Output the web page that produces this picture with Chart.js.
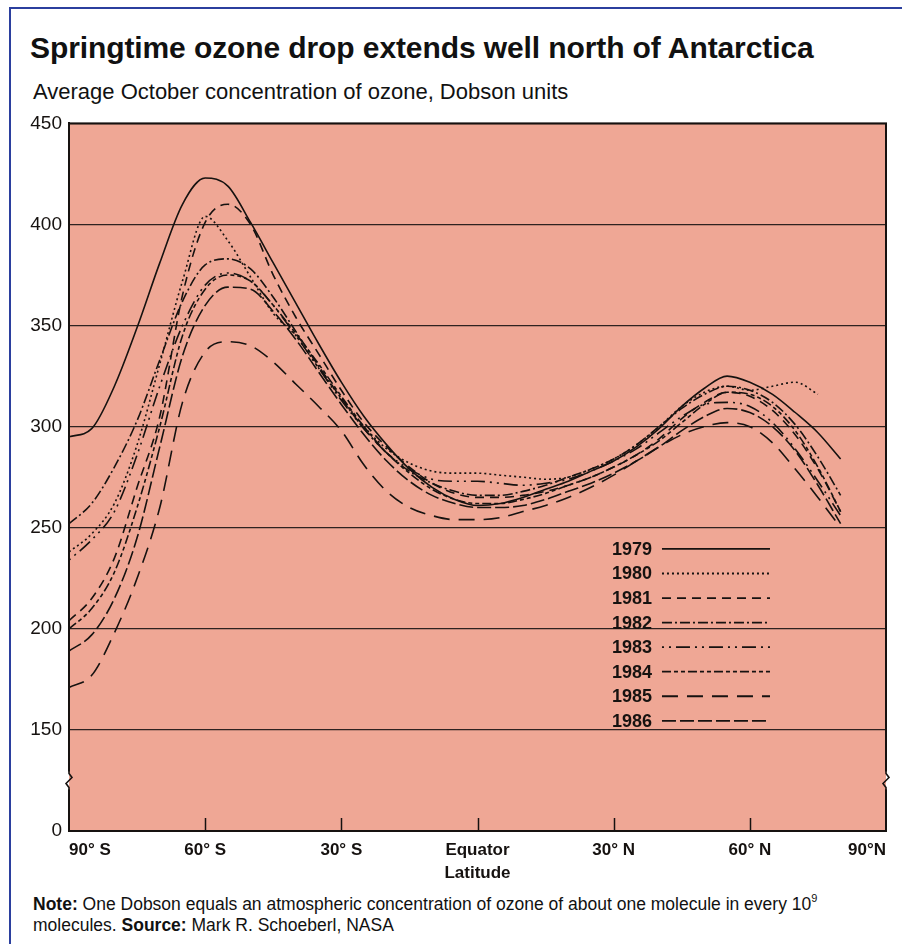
<!DOCTYPE html>
<html><head><meta charset="utf-8">
<script src="https://cdn.jsdelivr.net/npm/chart.js@4.4.1/dist/chart.umd.min.js"></script>
<style>
html,body{margin:0;padding:0;background:#fff;width:902px;height:944px;overflow:hidden;font-family:'Liberation Sans',Arial,sans-serif;color:#111}
#frame{position:absolute;left:9px;top:7px;width:900px;height:940px;border-top:2px solid #2B3F9E;border-left:2px solid #2B3F9E}
#title{position:absolute;left:30px;top:31px;font-size:30px;font-weight:bold;white-space:nowrap;letter-spacing:-0.1px}
#sub{position:absolute;left:33px;top:79px;font-size:22px;white-space:nowrap}
#wrap{position:absolute;left:0;top:105px;width:902px;height:785px}
#note{position:absolute;left:33px;top:894px;font-size:17.5px;line-height:21px;white-space:nowrap}
#note sup{font-size:11px;line-height:0;position:relative;top:-1px}
</style></head>
<body>
<div id="frame"></div>
<div id="title">Springtime ozone drop extends well north of Antarctica</div>
<div id="sub">Average October concentration of ozone, Dobson units</div>
<div id="wrap"><canvas id="c" width="902" height="785"></canvas></div>
<div id="note"><b>Note:</b> One Dobson equals an atmospheric concentration of ozone of about one molecule in every 10<sup>9</sup><br>molecules. <b>Source:</b> Mark R. Schoeberl, NASA</div>
<script>
// ---- data ----
const latitudes = [-90,-85,-80,-75,-70,-65,-60,-55,-50,-45,-40,-35,-30,-25,-20,-15,-10,-5,0,5,10,15,20,25,30,35,40,45,50,55,60,65,70,75,80];
const years = ['1979','1980','1981','1982','1983','1984','1985','1986'];
const ozone1979 = [295,299,320,349,381,410,423,419,401,381,361,341,322,305,291,279,270,264,261,262,265,269,273,278,283,290,299,310,319,325,322,316,307,297,284];
const ozone1980 = [238,247,262,291,331,372,404,392,374,356,345,329,314,300,289,282,278,277,277,276,275,274,275,279,284,291,300,310,317,320,318,320,322,316];
const ozone1981 = [204,215,235,270,305,365,401,410,400,375,354,336,318,302,290,280,272,267,265,265,266,268,271,275,280,286,294,304,312,317,315,308,296,279,258];
const ozone1982 = [252,262,280,303,333,362,380,383,378,364,347,330,314,299,287,278,272,268,266,266,268,271,275,279,284,291,300,309,316,320,318,312,301,285,266];
const ozone1983 = [234,244,258,286,320,350,370,376,372,360,345,329,313,299,287,279,274,273,273,272,271,272,274,278,283,289,297,305,311,312,310,302,289,273,256];
const ozone1984 = [200,210,228,260,300,345,368,375,372,360,346,331,315,300,287,277,269,264,262,262,264,267,271,275,280,286,293,302,311,317,316,310,298,280,258];
const ozone1985 = [171,177,198,225,260,312,337,342,340,332,321,310,298,281,268,260,256,254,254,255,258,261,265,270,276,283,290,296,300,302,300,292,279,265,250];
const ozone1986 = [189,197,215,245,290,335,360,369,368,357,343,327,311,296,283,273,266,262,260,260,261,264,268,272,277,283,290,298,305,309,307,300,288,271,252];
const seriesValues = [ozone1979,ozone1980,ozone1981,ozone1982,ozone1983,ozone1984,ozone1985,ozone1986];
const xTickValues = [-90,-60,-30,0,30,60,90];
const xTickLabels = ['90° S','60° S','30° S','Equator','30° N','60° N','90°N'];
const yTickValues = [100,150,200,250,300,350,400,450];
const yTickLabels = ['0','150','200','250','300','350','400','450'];

// ---- styles ----
const PLOT_BG = '#EFA795';
const INK = '#161210';
const dashes = [[],[2,3],[9,6],[10,3,2,3],[2,5,2,5,14,5],[9,3,4,3,4,3],[16,9],[14,4]];
const BREAK_VALUE = 125;

const datasets = seriesValues.map((vals,i)=>({
  label: years[i],
  data: vals.map((v,j)=>({x:latitudes[j], y:v})),
  borderColor: INK,
  borderWidth: 1.6,
  borderDash: dashes[i],
  pointRadius: 0,
  fill: false,
  cubicInterpolationMode: 'monotone'
}));

const decor = {
  id:'decor',
  beforeDraw(c){
    const {ctx, chartArea:a} = c;
    ctx.save(); ctx.fillStyle = PLOT_BG;
    ctx.fillRect(a.left, a.top, a.right-a.left, a.bottom-a.top);
    ctx.restore();
  },
  afterDatasetsDraw(c){
    const {ctx, chartArea:a, scales:{x,y}} = c;
    const w = a.right-a.left, h = a.bottom-a.top;
    ctx.save();
    ctx.strokeStyle = INK; ctx.lineWidth = 2; ctx.setLineDash([]);
    ctx.strokeRect(a.left, a.top, w, h);
    // inner tick marks on bottom axis
    ctx.lineWidth = 1.5;
    xTickValues.slice(1,-1).forEach(v=>{
      const px = Math.round(x.getPixelForValue(v))+0.5;
      ctx.beginPath(); ctx.moveTo(px, a.bottom); ctx.lineTo(px, a.bottom-13); ctx.stroke();
    });
    // axis break marks
    const yb = y.getPixelForValue(BREAK_VALUE);
    [[a.left,1],[a.right,-1]].forEach(([px,dir])=>{
      ctx.fillStyle = '#fff'; ctx.fillRect(dir>0?px-2:px, yb-9, 2, 18);
      ctx.fillStyle = PLOT_BG; ctx.fillRect(dir>0?px:px-2, yb-9, 2, 18);
      ctx.lineWidth = 1.6; ctx.strokeStyle = INK;
      ctx.beginPath();
      ctx.moveTo(px, yb-10); ctx.lineTo(px, yb-7); ctx.lineTo(px+3, yb-3); ctx.lineTo(px-3, yb+3); ctx.lineTo(px, yb+7); ctx.lineTo(px, yb+10);
      ctx.stroke();
    });
    // legend
    ctx.font = 'bold 18px "Liberation Sans", Arial, sans-serif';
    ctx.textAlign = 'right'; ctx.textBaseline = 'middle'; ctx.fillStyle = INK;
    c.data.datasets.forEach((ds,i)=>{
      const ry = a.top + (0.6014 + i*0.0347)*h;
      ctx.fillText(ds.label, a.left + 0.7136*w, ry+1);
      ctx.setLineDash(ds.borderDash); ctx.lineWidth = 1.8;
      ctx.beginPath(); ctx.moveTo(a.left+0.7258*w, ry); ctx.lineTo(a.left+0.858*w, ry); ctx.stroke();
    });
    ctx.restore();
  }
};

new Chart(document.getElementById('c'), {
  type:'line',
  data:{datasets},
  plugins:[decor],
  options:{
    responsive:false, animation:false,
    layout:{padding:{top:16,right:16,left:0,bottom:0}},
    plugins:{legend:{display:false}, tooltip:{enabled:false}},
    scales:{
      x:{type:'linear', min:-90, max:90,
        afterBuildTicks(s){ s.ticks = xTickValues.map(v=>({value:v})); },
        ticks:{callback:(v,i)=>xTickLabels[i], autoSkip:false, maxRotation:0, align:'inner', padding:1,
          color:INK, font:{family:'"Liberation Sans", Arial, sans-serif', size:17, weight:'bold'}},
        grid:{display:false},
        border:{display:true, color:INK, width:2},
        title:{display:true, text:'Latitude', color:INK, padding:{top:0,bottom:6},
          font:{family:'"Liberation Sans", Arial, sans-serif', size:17, weight:'bold'}},
        afterFit(s){ s.height = 59; }
      },
      y:{type:'linear', min:100, max:450,
        afterBuildTicks(s){ s.ticks = yTickValues.map(v=>({value:v})); },
        ticks:{callback:(v,i)=>yTickLabels[i], padding:7, color:INK,
          font:{family:'"Liberation Sans", Arial, sans-serif', size:19}},
        grid:{color:'#2e2220', lineWidth:1.3, drawTicks:false},
        border:{display:true, color:INK, width:2},
        afterFit(s){ s.width = 69; }
      }
    }
  }
});
</script>
</body></html>
